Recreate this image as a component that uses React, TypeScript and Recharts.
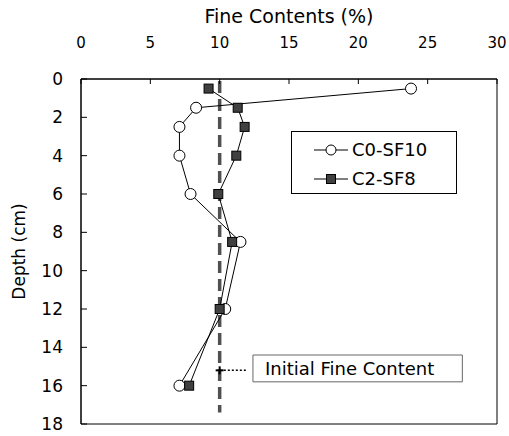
import {
  ScatterChart,
  Scatter,
  XAxis,
  YAxis,
  ReferenceLine,
  ReferenceArea,
  ReferenceDot,
} from 'recharts'

const depths = [0.5, 1.5, 2.5, 4, 6, 8.5, 12, 16]
const c0sf10 = [23.8, 8.3, 7.1, 7.1, 7.9, 11.5, 10.4, 7.1]
const c2sf8 = [9.2, 11.3, 11.8, 11.2, 9.9, 10.9, 10.0, 7.8]
const xTicks = [0, 5, 10, 15, 20, 25, 30]
const yTicks = [0, 2, 4, 6, 8, 10, 12, 14, 16, 18]
const initialFine = 10

const FONT = '"DejaVu Sans", sans-serif'

const d0 = depths.map((y, i) => ({ x: c0sf10[i], y }))
const d2 = depths.map((y, i) => ({ x: c2sf8[i], y }))

const Circle = (p: any) => (
  <circle cx={p.cx} cy={p.cy} r={5.5} fill="#fff" stroke="#000" strokeWidth={1} />
)
const Square = (p: any) => (
  <rect x={p.cx - 4.5} y={p.cy - 4.5} width={9} height={9} fill="#404040" stroke="#000" strokeWidth={1} />
)

function LegendBox() {
  const row = (label: string, marker: 'c' | 's') => (
    <div style={{ display: 'flex', alignItems: 'center', height: 29 }}>
      <svg width={36} height={14} style={{ marginRight: 3 }}>
        <line x1={1} x2={35} y1={7} y2={7} stroke="#000" strokeWidth={1} />
        {marker === 'c' ? (
          <circle cx={18} cy={7} r={5} fill="#fff" stroke="#000" />
        ) : (
          <rect x={13.5} y={2.5} width={9} height={9} fill="#404040" stroke="#000" />
        )}
      </svg>
      <span>{label}</span>
    </div>
  )
  return (
    <div
      style={{
        position: 'absolute',
        left: 291,
        top: 131,
        border: '1px solid #000',
        background: '#fff',
        width: 164,
        height: 61,
        fontFamily: FONT,
        fontSize: 18,
        lineHeight: '20px',
        color: '#000',
      }}
    >
      <div style={{ paddingLeft: 21, paddingTop: 3 }}>
        {row('C0-SF10', 'c')}
        {row('C2-SF8', 's')}
      </div>
    </div>
  )
}

const DepthLabel = (p: any) => {
  const vb = p.viewBox || {}
  const cy = vb.y + vb.height / 2
  return (
    <text
      x={19}
      y={cy}
      transform={`rotate(-90, 19, ${cy})`}
      textAnchor="middle"
      dominantBaseline="central"
      fontFamily={FONT}
      fontSize={17}
      fill="#000"
    >
      Depth (cm)
    </text>
  )
}

const Plus = (p: any) => (
  <g>
    <line x1={p.cx - 4} x2={p.cx + 4} y1={p.cy} y2={p.cy} stroke="#000" strokeWidth={2} />
    <line x1={p.cx} x2={p.cx} y1={p.cy - 4} y2={p.cy + 4} stroke="#000" strokeWidth={2} />
  </g>
)

export default function App() {
  return (
    <div style={{ position: 'absolute', left: 0, top: 0, background: '#fff' }}>
      <ScatterChart width={509} height={436} margin={{ top: 0, right: 12, bottom: 12, left: 0 }}>
        <XAxis
          type="number"
          dataKey="x"
          orientation="top"
          domain={[0, 30]}
          ticks={xTicks}
          height={79}
          tickSize={-5}
          tickMargin={36}
          axisLine={{ stroke: '#000' }}
          tickLine={{ stroke: '#000' }}
          tick={{ fill: '#000', fontSize: 15, fontFamily: FONT }}
          label={{
            value: 'Fine Contents (%)',
            position: 'insideTop',
            offset: 10,
            fill: '#000',
            fontSize: 19,
            fontFamily: FONT,
          }}
        />
        <YAxis
          type="number"
          dataKey="y"
          reversed
          domain={[0, 18]}
          ticks={yTicks}
          width={81}
          tickSize={-6}
          tickMargin={24}
          axisLine={{ stroke: '#000' }}
          tickLine={{ stroke: '#000' }}
          tick={{ fill: '#000', fontSize: 17, fontFamily: FONT }}
          label={<DepthLabel />}
        />
        <ReferenceArea x1={0} x2={30} y1={0} y2={18} fill="none" stroke="#000" strokeWidth={1} />
        <ReferenceLine
          segment={[
            { x: initialFine, y: 0.1 },
            { x: initialFine, y: 17.4 },
          ]}
          stroke="#505050"
          strokeWidth={3.5}
          strokeDasharray="12 6"
        />
        <ReferenceLine
          segment={[
            { x: 10.3, y: 15.2 },
            { x: 11.9, y: 15.2 },
          ]}
          stroke="#000"
          strokeWidth={1.5}
          strokeDasharray="2 2"
        />
        <ReferenceDot x={initialFine} y={15.2} shape={<Plus />} />
        <ReferenceArea
          x1={12.4}
          x2={27.5}
          y1={14.4}
          y2={15.8}
          fill="#fff"
          fillOpacity={1}
          stroke="#666"
          strokeWidth={1}
          label={{
            value: 'Initial Fine Content',
            position: 'insideLeft',
            offset: 12,
            fill: '#000',
            fontSize: 18,
            fontFamily: FONT,
          }}
        />
        <Scatter
          name="C0-SF10"
          data={d0}
          line={{ stroke: '#000', strokeWidth: 1 }}
          shape={<Circle />}
          isAnimationActive={false}
        />
        <Scatter
          name="C2-SF8"
          data={d2}
          line={{ stroke: '#000', strokeWidth: 1 }}
          shape={<Square />}
          isAnimationActive={false}
        />
      </ScatterChart>
      <LegendBox />
    </div>
  )
}
